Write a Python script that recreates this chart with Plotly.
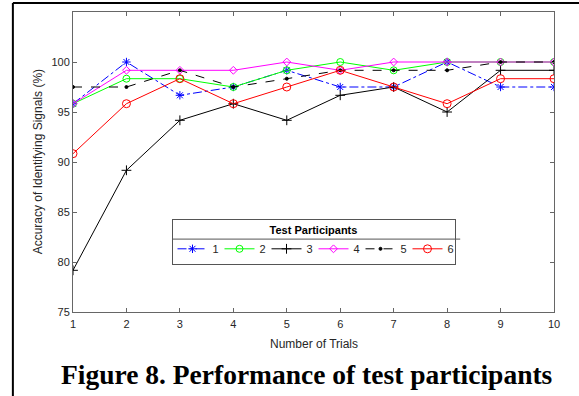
import plotly.graph_objects as go

trials = [1, 2, 3, 4, 5, 6, 7, 8, 9, 10]
p1 = [95.83, 100, 96.67, 97.5, 99.17, 97.5, 97.5, 100, 97.5, 97.5]
p2 = [95.83, 98.33, 98.33, 97.5, 99.17, 100, 99.17, 100, 100, 100]
p3 = [79.17, 89.17, 94.17, 95.83, 94.17, 96.67, 97.5, 95.0, 99.17, 99.17]
p4 = [95.83, 99.17, 99.17, 99.17, 100, 99.17, 100, 100, 100, 100]
p5 = [97.5, 97.5, 99.17, 97.5, 98.33, 99.17, 99.17, 99.17, 100, 100]
p6 = [90.83, 95.83, 98.33, 95.83, 97.5, 99.17, 97.5, 95.83, 98.33, 98.33]
names = ["1", "2", "3", "4", "5", "6"]
y_ticks = [75, 80, 85, 90, 95, 100]

styles = [
    dict(color="#0000FF", dash="dashdot", symbol="asterisk-open", size=7),
    dict(color="#00FF00", dash="solid", symbol="circle-open", size=7),
    dict(color="#000000", dash="solid", symbol="cross-thin-open", size=7),
    dict(color="#FF00FF", dash="solid", symbol="diamond-open", size=6),
    dict(color="#000000", dash="dash", symbol="circle", size=3),
    dict(color="#FF0000", dash="solid", symbol="circle-open", size=8),
]

fig = go.Figure()
for nm, ys, st in zip(names, [p1, p2, p3, p4, p5, p6], styles):
    fig.add_trace(go.Scatter(
        x=trials, y=ys, name=nm, mode="lines+markers",
        line=dict(color=st["color"], dash=st["dash"], width=1),
        marker=dict(symbol=st["symbol"], size=st["size"], color=st["color"],
                    line=dict(color=st["color"], width=1)),
    ))

axis_common = dict(
    showline=True, linecolor="#666666", linewidth=1, mirror="ticks",
    ticks="inside", ticklen=4, tickcolor="#666666", showgrid=False, zeroline=False,
    tickfont=dict(family="Liberation Sans, Arial", size=11, color="#262626"),
)
fig.update_xaxes(range=[1, 10], tickvals=trials, ticklabelstandoff=2, **axis_common)
fig.update_yaxes(range=[75, 105], tickvals=y_ticks, **axis_common)

fig.update_layout(
    width=579, height=396,
    margin=dict(l=73, r=25, t=12, b=84),
    paper_bgcolor="white", plot_bgcolor="white",
    legend=dict(
        orientation="h", x=0.5, xanchor="center", y=0.31, yanchor="top",
        bgcolor="rgba(0,0,0,0)", bordercolor="#555555", borderwidth=1,
        font=dict(family="Liberation Sans, Arial", size=11, color="#262626"),
        title=dict(text="<b>Test Participants</b>", side="top center",
                   font=dict(family="Liberation Sans, Arial", size=11, color="#000000")),
        itemwidth=30, tracegroupgap=0, entrywidth=2, entrywidthmode="pixels",
    ),
    annotations=[
        dict(text="Number of Trials", xref="paper", yref="paper", x=0.5, y=-0.077,
             xanchor="center", yanchor="top", showarrow=False,
             font=dict(family="Liberation Sans, Arial", size=12, color="#262626")),
        dict(text="Accuracy of Identifying Signals (%)", xref="paper", yref="paper",
             x=-0.072, y=0.5, xanchor="center", yanchor="middle", textangle=-90,
             showarrow=False,
             font=dict(family="Liberation Sans, Arial", size=12, color="#262626")),
        dict(text="<b>Figure 8. Performance of test participants</b>", xref="paper",
             yref="paper", x=0.486, y=-0.15, xanchor="center", yanchor="top",
             showarrow=False,
             font=dict(family="Liberation Serif, Times New Roman", size=27.5, color="#000000")),
    ],
    shapes=[
        dict(type="rect", xref="paper", yref="paper", x0=0.206, x1=0.805, y0=0.165, y1=0.31,
             fillcolor="white", line=dict(width=0), layer="above"),
        dict(type="line", xref="paper", yref="paper", x0=0.206, x1=0.805, y0=0.243, y1=0.243,
             line=dict(color="#555555", width=1), layer="above"),
        dict(type="line", xref="paper", yref="paper", x0=-0.125, x1=1.052, y0=1.03, y1=1.03,
             line=dict(color="black", width=2)),
        dict(type="line", xref="paper", yref="paper", x0=-0.125, x1=-0.125, y0=1.03, y1=-0.3,
             line=dict(color="black", width=2)),
    ],
)

fig.write_html("out.html", config={"displayModeBar": False},
               post_script="document.body.style.margin='0';")
